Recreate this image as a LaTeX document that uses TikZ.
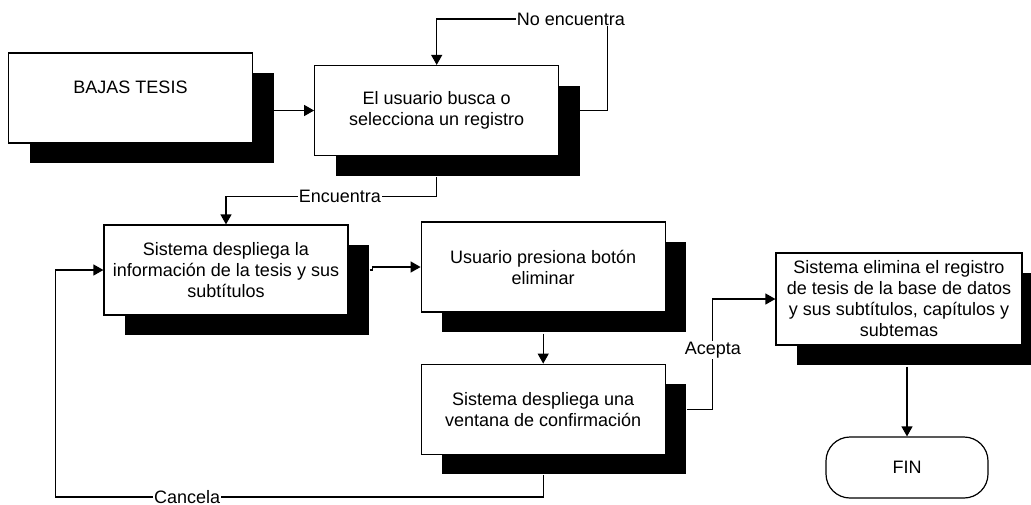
\documentclass[tikz,border=0pt]{standalone}
\usepackage{fontspec}
\setmainfont{Liberation Sans}
\usetikzlibrary{arrows.meta,positioning,shadows}

\begin{document}
\begin{tikzpicture}[
  x=1pt, y=-1pt,
  box/.style={draw=black, fill=white, line width=1.2pt, align=center, minimum width=244pt, minimum height=90pt, inner sep=2pt, font=\fontsize{18}{21}\selectfont, drop shadow={shadow xshift=21pt, shadow yshift=-20pt, fill=black, opacity=1}},
  term/.style={draw=black, fill=white, line width=1.2pt, rounded corners=24pt, minimum width=162pt, minimum height=61pt, font=\fontsize{18}{21}\selectfont},
  lbl/.style={fill=white, inner sep=1pt, font=\fontsize{18}{21}\selectfont},
  arrow/.style={-{Triangle[length=10pt,width=11pt]}, line width=1.2pt}
]
\useasboundingbox (0,0) rectangle (1031,504);
\node[box] (bajas) at (130.5,98) {BAJAS TESIS\\\mbox{}};
\node[box, right=61pt of bajas, yshift=-12.5pt] (busca) {El usuario busca o\\selecciona un registro};
\node[box] (despliega) at (226,270) {Sistema despliega la\\información de la tesis y sus\\subtítulos};
\node[box, right=72pt of despliega, yshift=3pt] (presiona) {Usuario presiona botón\\eliminar};
\node[box, below=51pt of presiona] (confirma) {Sistema despliega una\\ventana de confirmación};
\node[box, minimum width=246pt, minimum height=92pt] (elimina) at (899,299) {Sistema elimina el registro\\de tesis de la base de datos\\y sus subtítulos, capítulos y\\subtemas};
\node[term] (fin) at (907,467.5) {FIN};
\draw[arrow] ([xshift=21pt]bajas.east |- busca.west) -- (busca.west);
\draw[arrow] ([xshift=21pt]busca.east) -| ([xshift=48pt,yshift=46pt]busca.north east) -| node[lbl, pos=0.107] {No encuentra} (busca.north);
\draw[arrow] ([yshift=-21pt]busca.south) |- node[lbl, pos=0.73] {Encuentra} ([yshift=28pt]despliega.north) -- (despliega.north);
\draw[arrow] ([xshift=21pt]despliega.east) -- ++(3pt,0) |- (presiona.west);
\draw[arrow] ([yshift=-21pt]presiona.south) -- (confirma.north);
\draw[arrow] ([xshift=21pt]confirma.east) -- ++(26pt,0) |- node[lbl, pos=0.27] {Acepta} (elimina.west);
\draw[arrow] ([yshift=-20pt]confirma.south) |- node[lbl, pos=0.865] {Cancela} ([xshift=-48pt,yshift=-227pt]despliega.west) |- (despliega.west);
\draw[arrow] ([yshift=-21pt]fin.north |- elimina.south) -- (fin.north);
\end{tikzpicture}
\end{document}
